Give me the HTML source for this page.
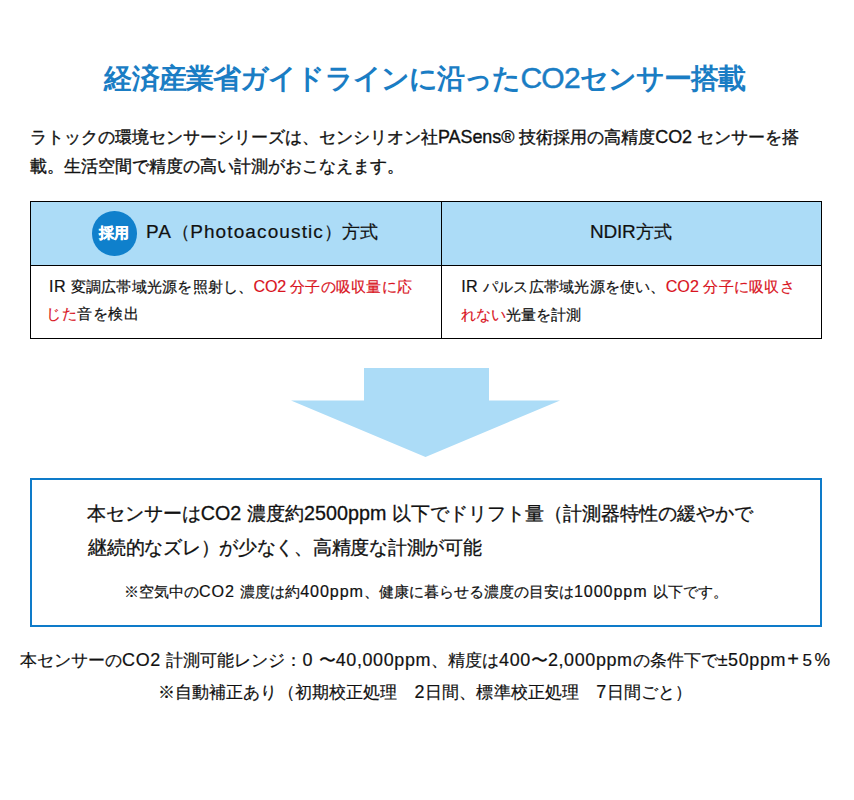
<!DOCTYPE html>
<html lang="ja">
<head>
<meta charset="utf-8">
<style>
html,body{margin:0;padding:0;background:#fff;}
body{width:854px;height:800px;position:relative;overflow:hidden;font-family:"Liberation Sans",sans-serif;color:#111;}
.abs{position:absolute;white-space:nowrap;margin:0;}
.tx{-webkit-text-stroke:0.35px currentColor;}
.red{color:#d9141e;-webkit-text-stroke-width:0.18px;}
.blue{color:#1a7dc4;}
</style>
</head>
<body>
<div class="abs tx" style="top:57.5px;font-size:28px;line-height:40px;letter-spacing:-0.867px;left:0;width:854px;text-align:center;text-indent:-3.9px;-webkit-text-stroke-width:0px;color:#1a7dc4;font-weight:bold;">経済産業省ガイドラインに沿った<span style="font-weight:normal;font-size:30px;letter-spacing:-0.77px;-webkit-text-stroke-width:0.45px">CO2</span>センサー搭載</div>
<div class="abs tx" style="top:121.5px;font-size:17px;line-height:30px;letter-spacing:0px;left:30px;">ラトックの環境センサーシリーズは、センシリオン社<span style="font-size:1.055em;letter-spacing:-0.04px">PASens® </span>技術採用の高精度<span style="font-size:1.055em;letter-spacing:-0.04px">CO2 </span>センサーを搭</div>
<div class="abs tx" style="top:152.1px;font-size:17px;line-height:30px;letter-spacing:0px;left:30px;">載。生活空間で精度の高い計測がおこなえます。</div>
<div class="abs" style="left:30px;top:201px;width:792px;height:138px;box-sizing:border-box;border:1px solid #000;"></div>
<div class="abs" style="left:31px;top:202px;width:790px;height:63px;background:#acdcf7;"></div>
<div class="abs" style="left:30px;top:265px;width:792px;height:1px;background:#000;"></div>
<div class="abs" style="left:441px;top:201px;width:1px;height:138px;background:#000;"></div>
<div class="abs" style="left:92.2px;top:211.1px;width:44.6px;height:44.6px;border-radius:50%;background:#0f80cc;"></div>
<div class="abs tx" style="top:223px;font-size:15px;line-height:20px;letter-spacing:0px;left:99px;color:#fff;font-weight:bold;">採用</div>
<div class="abs tx" style="top:219.5px;font-size:18px;line-height:24px;letter-spacing:0px;left:146px;-webkit-text-stroke-width:0.2px;"><span style="font-size:1.055em;letter-spacing:1.12px">PA</span>（<span style="font-size:1.055em;letter-spacing:1.12px">Photoacoustic</span>）方式</div>
<div class="abs tx" style="top:219.5px;font-size:18px;line-height:24px;letter-spacing:0px;left:590px;-webkit-text-stroke-width:0.2px;"><span style="font-size:1.055em;letter-spacing:-0.2px">NDIR</span>方式</div>
<div class="abs tx" style="top:275.9px;font-size:15.3px;line-height:20px;letter-spacing:0.22px;left:49px;-webkit-text-stroke-width:0.2px;"><span style="font-size:1.055em;letter-spacing:0.4px">IR </span>変調広帯域光源を照射し、<span class="red"><span style="font-size:1.055em;letter-spacing:-0.221px">CO2 </span>分子の吸収量に応</span></div>
<div class="abs tx" style="top:304.25px;font-size:15.3px;line-height:20px;letter-spacing:0.5px;left:46.0px;-webkit-text-stroke-width:0.2px;"><span class="red">じた</span>音を検出</div>
<div class="abs tx" style="top:275.9px;font-size:15.3px;line-height:20px;letter-spacing:0.22px;left:461.2px;-webkit-text-stroke-width:0.2px;"><span style="font-size:1.055em;letter-spacing:0.4px">IR </span>パルス広帯域光源を使い、<span class="red"><span style="font-size:1.055em;letter-spacing:0.036px">CO2 </span>分子に吸収さ</span></div>
<div class="abs tx" style="top:305.15px;font-size:15.3px;line-height:20px;letter-spacing:0px;left:461.2px;-webkit-text-stroke-width:0.2px;"><span class="red">れない</span>光量を計測</div>
<svg class="abs" style="left:0;top:0" width="854" height="800"><polygon fill="#acdcf7" points="364,368 489,368 489,400.5 560,400.5 425.5,457 291,400.5 364,400.5"/></svg>
<div class="abs" style="left:30px;top:478px;width:792px;height:149px;box-sizing:border-box;border:2px solid #0e7bc9;"></div>
<div class="abs tx" style="top:501.2px;font-size:18.7px;line-height:24px;letter-spacing:0px;left:86.7px;-webkit-text-stroke-width:0.3px;">本センサーは<span style="font-size:1.055em;letter-spacing:0.042px">CO2 </span>濃度約<span style="font-size:1.055em;letter-spacing:0.042px">2500ppm </span>以下でドリフト量（計測器特性の緩やかで</div>
<div class="abs tx" style="top:536px;font-size:18.7px;line-height:24px;letter-spacing:-0.262px;left:88.1px;-webkit-text-stroke-width:0.3px;">継続的なズレ）が少なく、高精度な計測が可能</div>
<div class="abs tx" style="top:579.9px;font-size:15.3px;line-height:22px;letter-spacing:0px;left:0;width:854px;text-align:center;text-indent:-2.2px;-webkit-text-stroke-width:0.2px;">※空気中の<span style="font-size:1.055em;letter-spacing:0.911px">CO2 </span>濃度は約<span style="font-size:1.055em;letter-spacing:0.911px">400ppm</span>、健康に暮らせる濃度の目安は<span style="font-size:1.055em;letter-spacing:0.911px">1000ppm </span>以下です。</div>
<div class="abs tx" style="top:648.6px;font-size:17px;line-height:22px;letter-spacing:0px;left:0;width:854px;text-align:center;text-indent:-1.8px;-webkit-text-stroke-width:0.2px;">本センサーの<span style="font-size:1.055em;letter-spacing:0.632px">CO2 </span>計測可能レンジ：<span style="font-size:1.055em;letter-spacing:0.632px">0 </span>〜<span style="font-size:1.055em;letter-spacing:0.632px">40,000ppm</span>、精度は<span style="font-size:1.055em;letter-spacing:0.632px">400</span>〜<span style="font-size:1.055em;letter-spacing:0.632px">2,000ppm</span>の条件下で<span style="font-size:1.055em;letter-spacing:0.632px">±50ppm</span><span style="display:inline-block;width:16px;text-align:center;font-size:20px;line-height:10px">+</span><span style="display:inline-block;width:12px;text-align:center">5</span><span style="display:inline-block;width:18px;text-align:center;font-size:17.5px">%</span></div>
<div class="abs tx" style="top:680.75px;font-size:17px;line-height:22px;letter-spacing:0.136px;left:0;width:854px;text-align:center;text-indent:-4.0px;-webkit-text-stroke-width:0.2px;">※自動補正あり（初期校正処理　<span style="font-size:1.055em;letter-spacing:0.4px">2</span>日間、標準校正処理　<span style="font-size:1.055em;letter-spacing:0.4px">7</span>日間ごと）</div>
</body>
</html>
